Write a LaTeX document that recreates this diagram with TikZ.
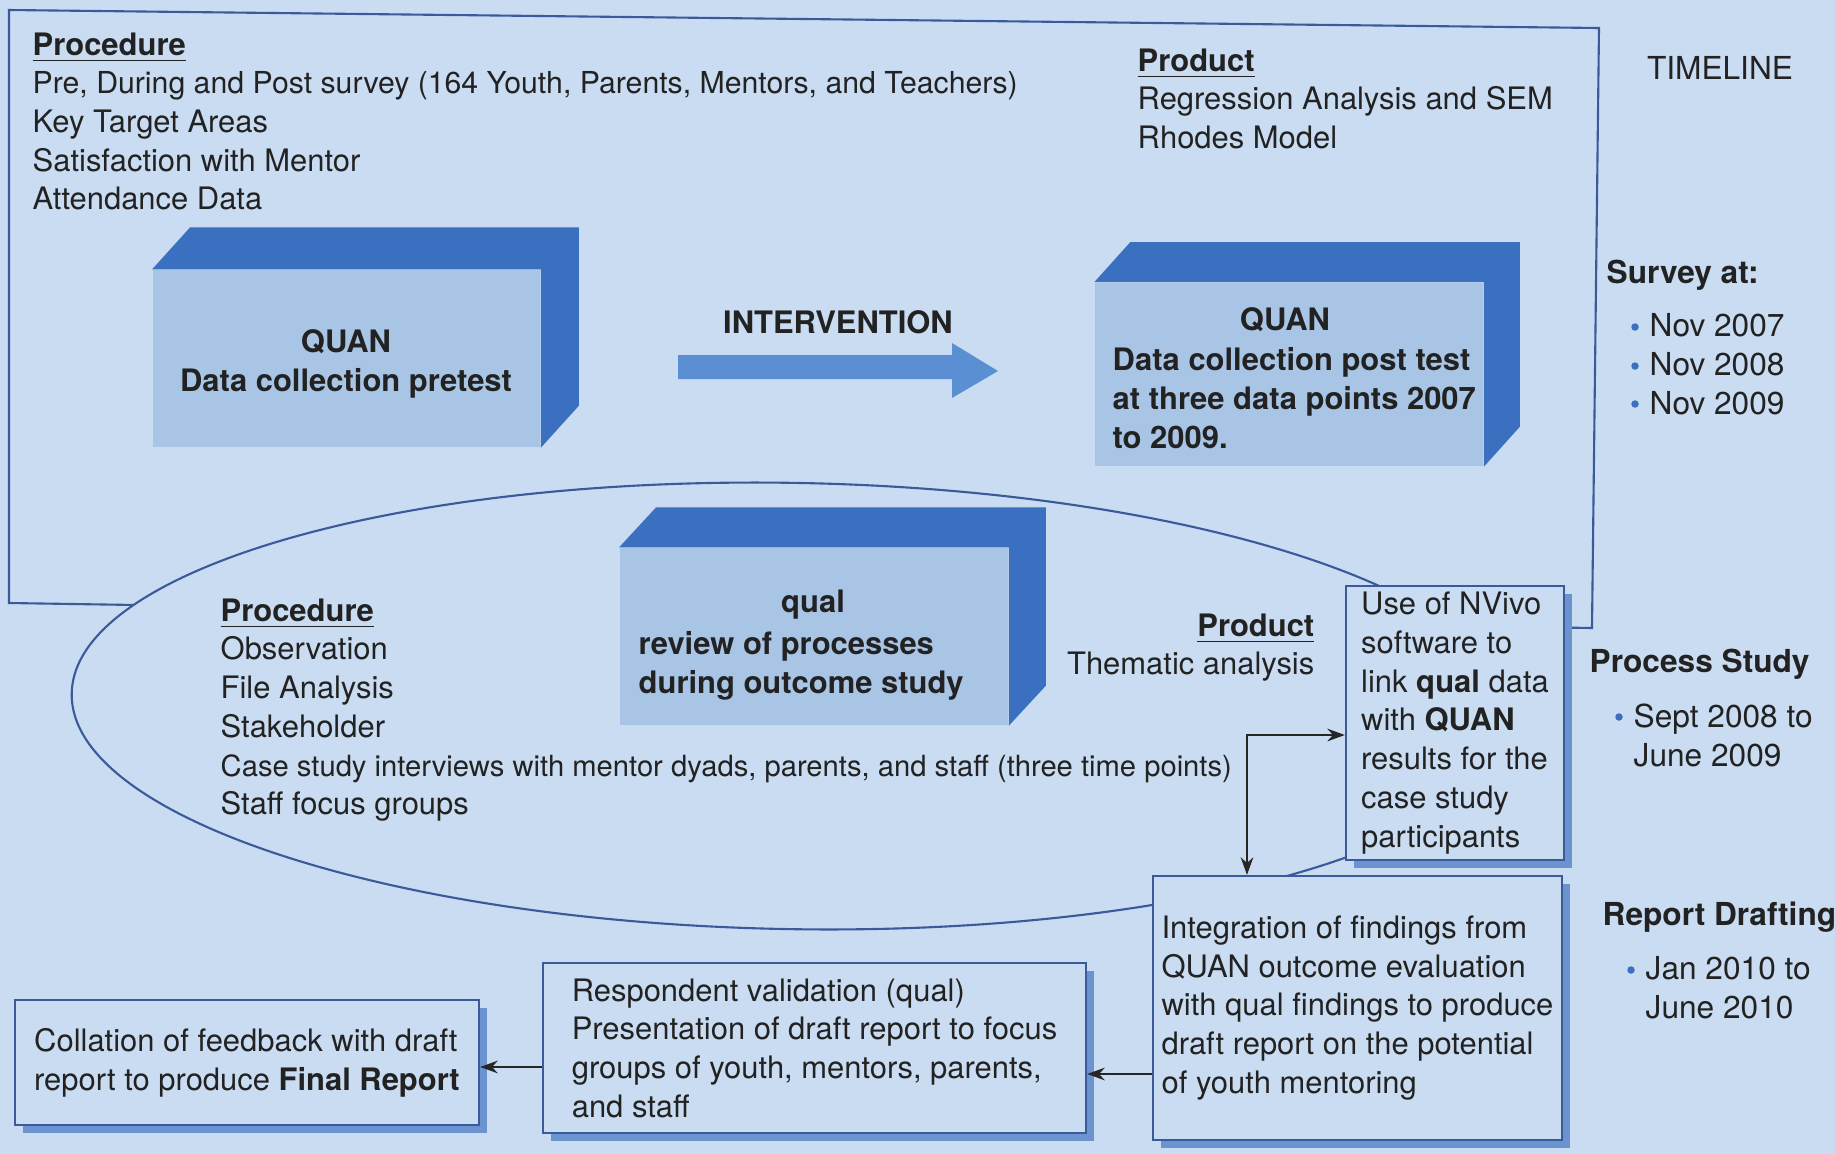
\documentclass[tikz,border=0pt]{standalone}
\usepackage{fontspec}
\setmainfont{TeX Gyre Heros}
\usetikzlibrary{shadows,arrows.meta}
\definecolor{bgc}{HTML}{C9DCF1}
\definecolor{facec}{HTML}{A9C5E6}
\definecolor{deepc}{HTML}{3B6FBF}
\definecolor{arrowc}{HTML}{5B8FD3}
\definecolor{shadowc}{HTML}{6A93D0}
\definecolor{linec}{HTML}{3A5A9A}
\definecolor{textc}{HTML}{222222}
\begin{document}
\begin{tikzpicture}[x=0.01cm,y=-0.01cm,
  >={Stealth[length=5pt,width=3.6pt]},
  every node/.style={text=textc, font=\fontsize{8.8}{11}\selectfont, inner sep=0pt},
  txt/.style={align=left, anchor=north west},
  face/.style={fill=facec, draw=none},
  flatbox/.style={draw=linec, line width=0.6pt, fill=bgc, align=left,
    drop shadow={shadow xshift=0.08cm, shadow yshift=-0.08cm, fill=shadowc, opacity=1}},
  conn/.style={draw=black!85, line width=0.5pt},
  boldtext/.style={font=\bfseries\fontsize{8.8}{11}\selectfont},
  tltext/.style={font=\fontsize{9}{11}\selectfont},
  tlhead/.style={font=\bfseries\fontsize{9}{11}\selectfont, anchor=base west},
  dot/.style={circle, fill=deepc, minimum size=0.075cm}
]
\useasboundingbox (0,0) rectangle (1835,1154);
\fill[bgc] (0,0) rectangle (1835,1154);

% outer frame of the quantitative part
\draw[linec, line width=0.6pt] (9,10) -- (1599,28) -- (1592,628) -- (9,603) -- cycle;

% ellipse of the qualitative part
\draw[linec, line width=0.6pt, fill=bgc, rotate around={-1:(792,706)}] (792,706) ellipse [x radius=7.2cm, y radius=2.23cm];

% box 1
\node[face, minimum width=3.87cm, minimum height=1.77cm] (b1) at (346.5,358.5) {};
\fill[deepc] (b1.north west) -- ([shift={(38,-42)}]b1.north west) -- ([shift={(38,-42)}]b1.north east)
  -- ([shift={(38,-42)}]b1.south east) -- (b1.south east) -- (b1.north east) -- cycle;
\node[boldtext, align=center] (t1) at (346,364) {QUAN\\Data collection pretest};

% box 2
\node[face, minimum width=3.88cm, minimum height=1.83cm] (b2) at (1289,374.5) {};
\fill[deepc] (b2.north west) -- ([shift={(36,-40)}]b2.north west) -- ([shift={(36,-40)}]b2.north east)
  -- ([shift={(36,-40)}]b2.south east) -- (b2.south east) -- (b2.north east) -- cycle;
\node[boldtext] (q2) at (1285,320) {QUAN};
\node[boldtext, txt] (t2) at (1112,347) {Data collection post test\\at three data points 2007\\to 2009.};

% box 3
\node[face, minimum width=3.88cm, minimum height=1.77cm] (b3) at (814,636.5) {};
\fill[deepc] (b3.north west) -- ([shift={(37,-40)}]b3.north west) -- ([shift={(37,-40)}]b3.north east)
  -- ([shift={(37,-40)}]b3.south east) -- (b3.south east) -- (b3.north east) -- cycle;
\node[boldtext] (q3) at (813,605) {qual};
\node[boldtext, txt] (t3) at (638,631) {review of processes\\during outcome study};

% intervention arrow
\fill[arrowc] (678,355) -- (952,355) -- (952,343) -- (998,371) -- (952,398) -- (952,379) -- (678,379) -- cycle;
\node[boldtext] (int) at (838,322) {INTERVENTION};

% texts of the quantitative part
\node[txt] (proc1) at (32,32) {\underline{\textbf{Procedure}}\\{\fontsize{8.6}{11}\selectfont Pre, During and Post survey (164 Youth, Parents, Mentors, and Teachers)}\\Key Target Areas\\Satisfaction with Mentor\\Attendance Data};
\node[txt] (prod1) at (1137,48) {\underline{\textbf{Product}}\\Regression Analysis and SEM\\Rhodes Model};

% texts of the qualitative part
\node[txt] (proc2) at (220,598) {\underline{\textbf{Procedure}}\\Observation\\File Analysis\\Stakeholder\\{\fontsize{8.3}{11}\selectfont Case study interviews with mentor dyads, parents, and staff (three time points)}\\Staff focus groups};
\node[align=right, anchor=north east] (prod2) at (1315,613) {\underline{\textbf{Product}}\\Thematic analysis};

% flat boxes
\node[flatbox, minimum width=2.18cm, minimum height=2.74cm] (nv) at (1455,723) {Use of NVivo\\software to\\link \textbf{qual} data\\with \textbf{QUAN}\\results for the\\case study\\participants};
\node[flatbox, minimum width=4.09cm, minimum height=2.64cm] (ig) at (1357.5,1008) {Integration of findings from\\QUAN outcome evaluation\\with qual findings to produce\\draft report on the potential\\of youth mentoring};
\node[flatbox, minimum width=5.43cm, minimum height=1.70cm] (rv) at (814.5,1048) {Respondent validation (qual)\\Presentation of draft report to focus\\groups of youth, mentors, parents,\\and staff};
\node[flatbox, minimum width=4.64cm, minimum height=1.25cm] (cl) at (247,1062.5) {Collation of feedback with draft\\report to produce \textbf{Final Report}};

% connectors
\coordinate (k1) at (1247,735);
\draw[conn, <->] (nv.west |- k1) -| (ig.north -| k1);
\coordinate (k2) at (0,1074);
\draw[conn, ->] (ig.west |- k2) -- (rv.east |- k2);
\coordinate (k3) at (0,1067);
\draw[conn, ->] (rv.west |- k3) -- (cl.east |- k3);

% timeline
\node[tltext] (tl) at (1720,68) {TIMELINE};
\node[tlhead] (sv) at (1606,283) {Survey at:};
\node[tltext, txt] (svl) at (1649,313) {Nov 2007\\Nov 2008\\Nov 2009};
\node[dot] (d1) at (1635,327) {};
\node[dot] (d2) at (1635,366) {};
\node[dot] (d3) at (1635,404) {};
\node[tlhead] (ps) at (1589,672) {Process Study};
\node[tltext, txt] (psl) at (1633,703) {Sept 2008 to\\June 2009};
\node[dot] (d4) at (1619,717) {};
\node[tlhead] (rd) at (1602,925) {Report Drafting};
\node[tltext, txt] (rdl) at (1645,956) {Jan 2010 to\\June 2010};
\node[dot] (d5) at (1631,970) {};
\end{tikzpicture}
\end{document}
